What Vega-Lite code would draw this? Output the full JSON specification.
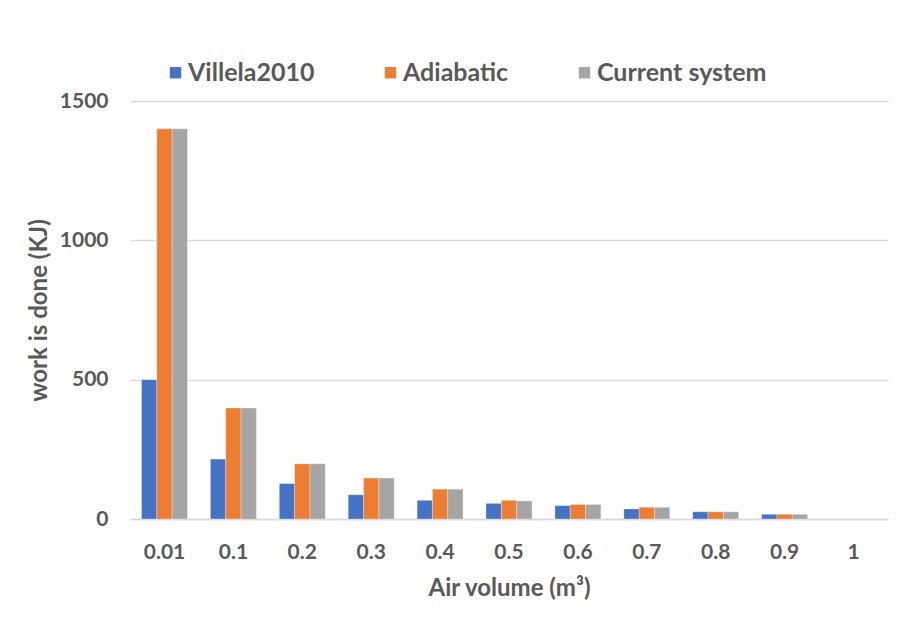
{
  "$schema": "https://vega.github.io/schema/vega-lite/v6.json",
  "autosize": {"type": "none"},
  "width": 758,
  "height": 418,
  "padding": {"left": 130, "top": 101, "right": 22, "bottom": 102},
  "background": "white",
  "data": {
    "values": [
      {"volume": "0.01", "series": "Villela2010", "work": 500},
      {"volume": "0.01", "series": "Adiabatic", "work": 1400},
      {"volume": "0.01", "series": "Current system", "work": 1400},
      {"volume": "0.1", "series": "Villela2010", "work": 215},
      {"volume": "0.1", "series": "Adiabatic", "work": 398},
      {"volume": "0.1", "series": "Current system", "work": 398},
      {"volume": "0.2", "series": "Villela2010", "work": 127},
      {"volume": "0.2", "series": "Adiabatic", "work": 198},
      {"volume": "0.2", "series": "Current system", "work": 198},
      {"volume": "0.3", "series": "Villela2010", "work": 87},
      {"volume": "0.3", "series": "Adiabatic", "work": 147},
      {"volume": "0.3", "series": "Current system", "work": 147},
      {"volume": "0.4", "series": "Villela2010", "work": 67},
      {"volume": "0.4", "series": "Adiabatic", "work": 107},
      {"volume": "0.4", "series": "Current system", "work": 107},
      {"volume": "0.5", "series": "Villela2010", "work": 56},
      {"volume": "0.5", "series": "Adiabatic", "work": 67},
      {"volume": "0.5", "series": "Current system", "work": 65},
      {"volume": "0.6", "series": "Villela2010", "work": 48},
      {"volume": "0.6", "series": "Adiabatic", "work": 52},
      {"volume": "0.6", "series": "Current system", "work": 52},
      {"volume": "0.7", "series": "Villela2010", "work": 36},
      {"volume": "0.7", "series": "Adiabatic", "work": 42},
      {"volume": "0.7", "series": "Current system", "work": 42},
      {"volume": "0.8", "series": "Villela2010", "work": 26},
      {"volume": "0.8", "series": "Adiabatic", "work": 26},
      {"volume": "0.8", "series": "Current system", "work": 26},
      {"volume": "0.9", "series": "Villela2010", "work": 17},
      {"volume": "0.9", "series": "Adiabatic", "work": 17},
      {"volume": "0.9", "series": "Current system", "work": 17}
    ]
  },
  "mark": {"type": "bar", "stroke": "white", "strokeWidth": 0.5, "strokeOpacity": 0.6},
  "encoding": {
    "x": {
      "field": "volume",
      "type": "nominal",
      "scale": {
        "domain": ["0.01", "0.1", "0.2", "0.3", "0.4", "0.5", "0.6", "0.7", "0.8", "0.9", "1"],
        "paddingInner": 0.333,
        "paddingOuter": 0.167
      },
      "axis": {
        "title": "Air volume (m\u00b3)",
        "labelAngle": 0,
        "labelPadding": 22,
        "tickSize": 0,
        "ticks": false,
        "domainColor": "#D9D9D9",
        "domainWidth": 1.5,
        "titlePadding": 14
      }
    },
    "xOffset": {
      "field": "series",
      "type": "nominal",
      "sort": ["Villela2010", "Adiabatic", "Current system"],
      "scale": {"paddingInner": 0, "paddingOuter": 0}
    },
    "y": {
      "field": "work",
      "type": "quantitative",
      "scale": {"domain": [0, 1500], "nice": false},
      "axis": {
        "title": "work is done (KJ)",
        "values": [0, 500, 1000, 1500],
        "format": "d",
        "domain": false,
        "ticks": false,
        "labelPadding": 22,
        "gridColor": "#D9D9D9",
        "gridWidth": 1.5,
        "titlePadding": 8
      }
    },
    "color": {
      "field": "series",
      "type": "nominal",
      "sort": ["Villela2010", "Adiabatic", "Current system"],
      "scale": {
        "domain": ["Villela2010", "Adiabatic", "Current system"],
        "range": ["#4472C4", "#ED7D31", "#A5A5A5"]
      },
      "legend": {
        "title": null,
        "orient": "none",
        "direction": "horizontal",
        "legendX": 33,
        "legendY": -41,
        "symbolType": "square",
        "symbolSize": 130,
        "symbolStrokeWidth": 0,
        "labelOffset": 0,
        "columnPadding": 63,
        "padding": 0
      }
    }
  },
  "config": {
    "view": {"stroke": null},
    "font": "Lato",
    "axis": {
      "labelFont": "Lato",
      "labelFontWeight": "bold",
      "labelFontSize": 21,
      "labelColor": "#595959",
      "titleFont": "Lato",
      "titleFontWeight": "bold",
      "titleFontSize": 24,
      "titleColor": "#595959"
    },
    "legend": {
      "labelFont": "Lato",
      "labelFontWeight": "bold",
      "labelFontSize": 25,
      "labelColor": "#595959",
      "labelLimit": 400
    }
  }
}
